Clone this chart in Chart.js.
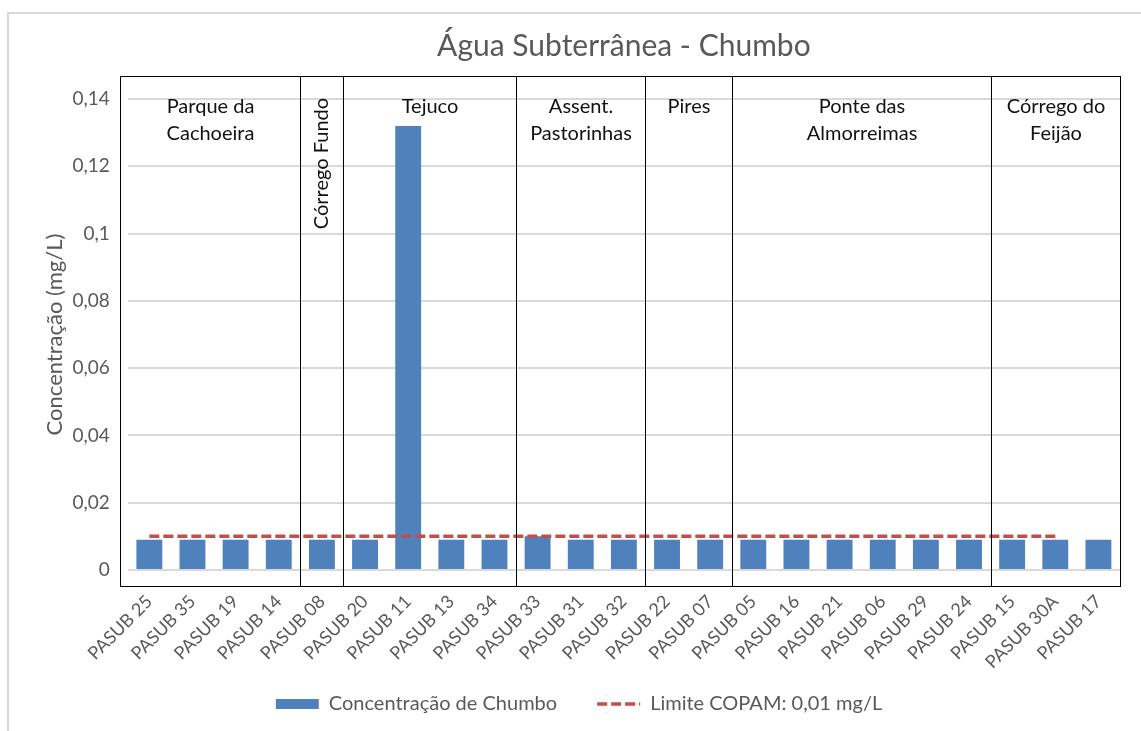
<!DOCTYPE html>
<html>
<head>
<meta charset="utf-8">
<title>Água Subterrânea - Chumbo</title>
<script src="https://cdn.jsdelivr.net/npm/chart.js"></script>
<style>
  html, body { margin: 0; padding: 0; background: #fff; overflow: hidden; }
  #frame { position: absolute; left: 7px; top: 12px; width: 1200px; height: 800px;
           border-left: 2px solid #d9d9d9; border-top: 2px solid #d9d9d9; }
  #wrap { position: absolute; left: 0; top: 0; width: 1141px; height: 731px; }
</style>
</head>
<body>
<div id="frame"></div>
<div id="wrap"><canvas id="leadChart" width="1141" height="731"></canvas></div>
<script>
  // pontos de coleta
  const pontos = ['PASUB 25', 'PASUB 35', 'PASUB 19', 'PASUB 14', 'PASUB 08', 'PASUB 20', 'PASUB 11',
    'PASUB 13', 'PASUB 34', 'PASUB 33', 'PASUB 31', 'PASUB 32', 'PASUB 22', 'PASUB 07', 'PASUB 05',
    'PASUB 16', 'PASUB 21', 'PASUB 06', 'PASUB 29', 'PASUB 24', 'PASUB 15', 'PASUB 30A', 'PASUB 17'];
  const chumbo = [0.009, 0.009, 0.009, 0.009, 0.009, 0.009, 0.132, 0.009, 0.009, 0.010, 0.009, 0.009,
    0.009, 0.009, 0.009, 0.009, 0.009, 0.009, 0.009, 0.009, 0.009, 0.009, 0.009];
  const limite = [0.01, 0.01, 0.01, 0.01, 0.01, 0.01, 0.01, 0.01, 0.01, 0.01, 0.01, 0.01,
    0.01, 0.01, 0.01, 0.01, 0.01, 0.01, 0.01, 0.01, 0.01, 0.01, null];

  // regiões (nome, primeiro índice, último índice)
  const regioes = [
    { nome: ['Parque da', 'Cachoeira'], de: 0, ate: 3 },
    { nome: ['Córrego Fundo'], de: 4, ate: 4, vertical: true },
    { nome: ['Tejuco'], de: 5, ate: 8 },
    { nome: ['Assent.', 'Pastorinhas'], de: 9, ate: 11 },
    { nome: ['Pires'], de: 12, ate: 13 },
    { nome: ['Ponte das', 'Almorreimas'], de: 14, ate: 19 },
    { nome: ['Córrego do', 'Feijão'], de: 20, ate: 22 }
  ];
  const titulo = 'Água Subterrânea - Chumbo';
  const yMax = 0.14;
  const yStep = 0.02;

  const fonte = 'Lato, "Open Sans", sans-serif';
  const cinza = '#595959';
  const tracejado = [10, 4];

  // caixas das regiões + título centrado na área do gráfico
  const caixas = {
    id: 'caixas',
    afterDatasetsDraw(chart) {
      const { ctx, chartArea, scales: { x, y } } = chart;
      const borda = i => {
        if (i <= 0) return x.left - 8;
        if (i >= pontos.length) return x.right;
        return (x.getPixelForValue(i - 1) + x.getPixelForValue(i)) / 2;
      };
      const topo = Math.round(y.getPixelForValue(yMax) - 23) + 0.5;
      const base = Math.round(y.getPixelForValue(0) + 16) + 0.5;
      ctx.save();
      ctx.strokeStyle = '#000';
      ctx.lineWidth = 1;
      ctx.fillStyle = '#111';
      ctx.font = '20px ' + fonte;
      ctx.textAlign = 'center';
      ctx.textBaseline = 'middle';
      regioes.forEach(r => {
        const x0 = Math.round(borda(r.de)) + 0.5;
        const x1 = Math.round(borda(r.ate + 1)) + 0.5;
        ctx.strokeRect(x0, topo, x1 - x0, base - topo);
        const cx = (x0 + x1) / 2;
        if (r.vertical) {
          ctx.save();
          ctx.translate(cx, topo + 87);
          ctx.rotate(-Math.PI / 2);
          ctx.fillText(r.nome[0], 0, 0);
          ctx.restore();
        } else {
          r.nome.forEach((linha, k) => ctx.fillText(linha, cx, topo + 30 + k * 27));
        }
      });
      ctx.fillStyle = cinza;
      ctx.font = '30px ' + fonte;
      ctx.fillText(titulo, (chartArea.left + chartArea.right) / 2, 46);
      ctx.restore();
    }
  };

  const ctx = document.getElementById('leadChart').getContext('2d');
  new Chart(ctx, {
    data: {
      labels: pontos,
      datasets: [
        {
          type: 'line',
          label: 'Limite COPAM: 0,01 mg/L',
          data: limite,
          borderColor: '#c0504d',
          backgroundColor: '#c0504d',
          borderWidth: 3.5,
          borderDash: tracejado,
          pointRadius: 0,
          pointStyle: 'line',
          order: 0
        },
        {
          type: 'bar',
          label: 'Concentração de Chumbo',
          data: chumbo,
          backgroundColor: '#4f81bd',
          borderWidth: 0,
          pointStyle: 'rect',
          barPercentage: 0.6,
          categoryPercentage: 1,
          order: 1
        }
      ]
    },
    options: {
      responsive: false,
      animation: false,
      layout: { padding: { left: 38, right: 21, top: 99, bottom: 7 } },
      plugins: {
        title: { display: false },
        legend: {
          position: 'bottom',
          reverse: true,
          labels: {
            usePointStyle: true,
            pointStyleWidth: 43,
            boxHeight: 10,
            color: cinza,
            font: { family: fonte, size: 20 },
            padding: 0,
            generateLabels(chart) {
              const itens = Chart.defaults.plugins.legend.labels.generateLabels(chart);
              itens.forEach(it => {
                const ds = chart.data.datasets[it.datasetIndex];
                if (ds.type === 'line') {
                  it.lineDash = tracejado;
                  it.lineWidth = 3.5;
                  it.strokeStyle = ds.borderColor;
                } else {
                  // espaço entre os dois itens da legenda
                  it.text += '\u2003\u2003\u2002';
                }
              });
              return itens;
            }
          }
        },
        tooltip: { enabled: false }
      },
      scales: {
        x: {
          grid: { display: false, drawTicks: false },
          border: { display: false },
          ticks: {
            color: cinza,
            font: { family: fonte, size: 18 },
            minRotation: 45,
            maxRotation: 45,
            padding: 21
          }
        },
        y: {
          min: 0,
          max: yMax,
          grid: { color: '#d9d9d9', lineWidth: 2, drawTicks: false },
          border: { display: false },
          ticks: {
            stepSize: yStep,
            color: cinza,
            padding: 18,
            font: { family: fonte, size: 19 },
            callback: v => String(Math.round(v * 100) / 100).replace('.', ',')
          },
          title: {
            display: true,
            text: 'Concentração (mg/L)',
            color: cinza,
            font: { family: fonte, size: 22 },
            padding: { top: 4, bottom: -14 }
          }
        }
      }
    },
    plugins: [caixas]
  });
</script>
</body>
</html>
